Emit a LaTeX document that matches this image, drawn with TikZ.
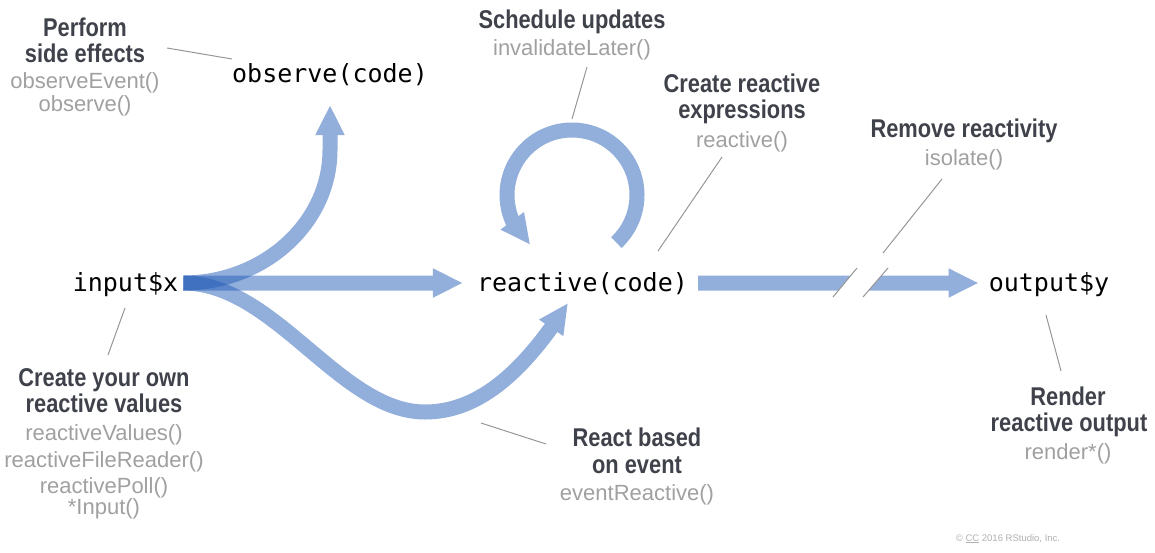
\documentclass[tikz,border=0pt]{standalone}
\usepackage{fontspec}
\setmainfont{Liberation Sans}
\newfontfamily\titlef[FakeStretch=0.85]{Liberation Sans}
\newfontfamily\codef{DejaVu Sans Mono}
\usetikzlibrary{arrows.meta,calc,bending}
\definecolor{flowblue}{RGB}{37,93,183}
\definecolor{titlegray}{RGB}{63,66,74}
\definecolor{apigray}{RGB}{160,160,160}
\definecolor{leadgray}{RGB}{150,150,150}
\definecolor{copygray}{RGB}{175,175,175}
\begin{document}
\begin{tikzpicture}[x=1pt,y=1pt,
  code/.style={font=\codef\fontsize{25}{30}\selectfont, text=black, inner sep=0pt, anchor=base},
  title/.style={font=\titlef\bfseries\fontsize{25.7}{28}\selectfont, text=titlegray, inner sep=0pt, anchor=base},
  api/.style={font=\fontsize{22}{24}\selectfont, text=apigray, inner sep=0pt, anchor=base},
  leader/.style={draw=leadgray, line width=1pt},
  flow/.style={draw=flowblue, line width=15pt, -{Triangle[length=30pt 0, width=27pt 0, flex]}},
  glass/.style={transparency group, opacity=0.5},
]
\useasboundingbox (0,0) rectangle (1155,-552);

% code nodes
\node[code] (input) at (125.5,-291) {input\$x};
\node[code] (reactive) at (582.5,-291) {reactive(code)};
\node[code] (observe) at (330,-82) {observe(code)};
\node[code] (output) at (1049,-291) {output\$y};

% arrow end points
\coordinate (src) at ($(input.base east)+(5,8)$);
\coordinate (tstraight) at ($(reactive.base west)+(-14,8)$);
\coordinate (tobs) at ($(observe.base)+(0,-23)$);
\coordinate (tevent) at ($(reactive.base)+(-14.5,-12)$);
\coordinate (rsrc) at ($(reactive.base east)+(10,8)$);
\coordinate (tout) at ($(output.base west)+(-10,8)$);
\coordinate (loopc) at (572,-195);

% arrows
\begin{scope}[glass]
\draw[flow] (src) .. controls (264,-283) and (330,-223) .. (330,-150) -- (tobs);
\end{scope}
\begin{scope}[glass]
\draw[flow] (src) -- (tstraight);
\end{scope}
\begin{scope}[glass]
\draw[flow] (src) .. controls (275,-283) and (340,-412) .. (425,-412)
  .. controls (480,-412) and (525,-370) .. (tevent);
\end{scope}
\begin{scope}[glass]
\draw[flow, line width=15pt] ($(loopc)+(-47:65)$) arc[start angle=-47, end angle=230, radius=65];
\end{scope}
\begin{scope}[glass]
\draw[flow] (rsrc) -- (tout);
\end{scope}

% break in the output arrow
\coordinate (b1a) at (833,-297);
\coordinate (b1b) at (857,-268);
\coordinate (b2a) at (863,-297);
\coordinate (b2b) at (888,-268);
\fill[white] (b1a) -- (b1b) -- (b2b) -- (b2a) -- cycle;
\draw[leader] (b1a) -- (b1b);
\draw[leader] (b2a) -- (b2b);

% labels
\node[title] (perform) at (85,-36) {Perform};
\node[title] (sideeff) at (85,-62) {side effects};
\node[api] (obsev) at (85,-88) {observeEvent()};
\node[api] (obs) at (85,-111) {observe()};

\node[title] (sched) at (572,-28) {Schedule updates};
\node[api] (invl) at (572,-55) {invalidateLater()};

\node[title] (creat) at (742,-92) {Create reactive};
\node[title] (expr) at (742,-118) {expressions};
\node[api] (reac) at (742,-147) {reactive()};

\node[title] (remove) at (964,-137) {Remove reactivity};
\node[api] (isol) at (964,-165) {isolate()};

\node[title] (render) at (1068,-405) {Render};
\node[title] (routp) at (1069,-431) {reactive output};
\node[api] (rend) at (1068,-459) {render*()};

\node[title] (cyo) at (104,-386) {Create your own};
\node[title] (rvals) at (104,-412) {reactive values};
\node[api] (rv) at (104,-440) {reactiveValues()};
\node[api] (rfr) at (104,-467) {reactiveFileReader()};
\node[api] (rp) at (104,-493) {reactivePoll()};
\node[api] (inp) at (104,-514) {*Input()};

\node[title] (rbased) at (637,-446) {React based};
\node[title] (onev) at (637,-473) {on event};
\node[api] (evr) at (637,-500) {eventReactive()};

\node[font=\fontsize{9.5}{11}\selectfont, text=copygray, inner sep=0pt, anchor=base] (copy) at (1008,-541) {© \underline{CC} 2016 RStudio, Inc.};

% leader lines
\coordinate (la1) at (167,-48);  \coordinate (la2) at (232,-59);
\coordinate (lb1) at (587,-67);  \coordinate (lb2) at (572,-119);
\coordinate (lc1) at (722,-157); \coordinate (lc2) at (658,-251);
\coordinate (ld1) at (942,-179); \coordinate (ld2) at (883,-253);
\coordinate (le1) at (1046,-315);\coordinate (le2) at (1061,-371);
\coordinate (lf1) at (125,-308); \coordinate (lf2) at (108,-355);
\coordinate (lg1) at (481,-423); \coordinate (lg2) at (546,-444);
\draw[leader] (la1) -- (la2);
\draw[leader] (lb1) -- (lb2);
\draw[leader] (lc1) -- (lc2);
\draw[leader] (ld1) -- (ld2);
\draw[leader] (le1) -- (le2);
\draw[leader] (lf1) -- (lf2);
\draw[leader] (lg1) -- (lg2);
\end{tikzpicture}
\end{document}
